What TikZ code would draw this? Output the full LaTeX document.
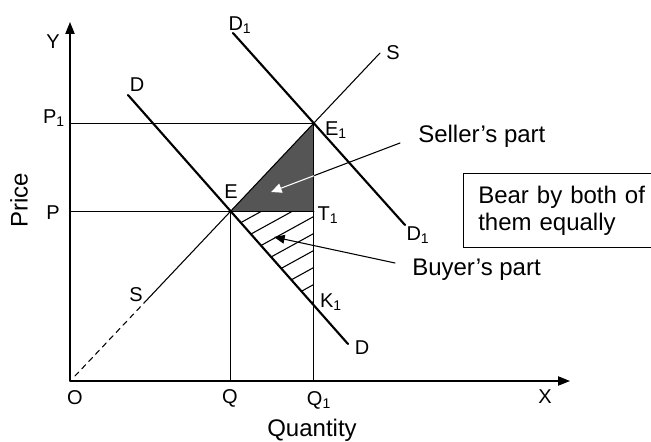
\documentclass[tikz,border=0pt]{standalone}
\usepackage{fontspec}
\setmainfont{Liberation Sans}
\usepackage{tikz}
\usetikzlibrary{arrows.meta,calc,positioning}
\definecolor{ShadeGray}{RGB}{85,85,85}

\begin{document}
\begin{tikzpicture}[x=0.75pt, y=-0.75pt, line cap=round,
		lbl/.style={font=\fontsize{15}{18}\selectfont, inner sep=0pt},
		txt/.style={font=\fontsize{18}{20.25}\selectfont, inner sep=0pt},
		curve/.style={line width=1.6pt},
		guide/.style={line width=0.8pt},
		axis/.style={line width=0.9pt, -{Triangle[length=9pt,width=7pt]}}]
	\useasboundingbox (0,0) rectangle (651,442);
	% end points of the curves
	\coordinate (O) at (70,381);
	\coordinate (Xend) at (570,381);
	\coordinate (Yend) at (70,22);
	\coordinate (Dtop) at (128,95);
	\coordinate (Dbot) at (348,344);
	\coordinate (D1top) at (233,33);
	\coordinate (D1bot) at (405,225);
	\coordinate (Slow) at (75,376);
	\coordinate (Smid) at (144,303);
	\coordinate (Stop) at (380,53);
	% equilibrium points
	\coordinate (E) at (intersection of Dtop--Dbot and Slow--Stop);
	\coordinate (E1) at (intersection of D1top--D1bot and Slow--Stop);
	\coordinate (T1) at (E1 |- E);
	\coordinate (K1) at (intersection of Dtop--Dbot and E1--T1);
	\coordinate (Q) at (E |- O);
	\coordinate (Q1) at (E1 |- O);
	\coordinate (P) at (O |- E);
	\coordinate (P1) at (O |- E1);

	% shaded parts
	\fill[ShadeGray] (E) -- (E1) -- (T1) -- cycle;
	\begin{scope}
		\clip (E) -- (T1) -- (K1) -- cycle;
		\foreach \k in {1,...,8}
			\draw[guide] ($(E)+(0,\k*17)$) -- ++(110,-60.5);
	\end{scope}

	% axes and guide lines
	\draw[axis] (O) -- (Xend);
	\draw[axis] (O) -- (Yend);
	\draw[guide] (P1) -- (E1);
	\draw[guide] (P) -- (T1);
	\draw[guide] (Q) -- (E);
	\draw[line width=1pt] (Q1) -- (E1);

	% supply and demand
	\draw[guide, dash pattern=on 4pt off 3.5pt] (Slow) -- (Smid);
	\draw[guide] (Smid) -- (Stop);
	\draw[curve] (Dtop) -- (Dbot);
	\draw[curve] (D1top) -- (D1bot);

	% labels
	\node[lbl] (ylab) at (53,42) {Y};
	\node[lbl] (xlab) at (545,397) {X};
	\node[lbl] (olab) at (75,398) {O};
	\node[lbl] (qlab) at (230,398) {Q};
	\node[lbl] (q1lab) at (319,400) {Q\textsubscript{1}};
	\node[lbl] (plab) at (53,213) {P};
	\node[lbl] (p1lab) at (54,118) {P\textsubscript{1}};
	\node[lbl] (dtoplab) at (137,85) {D};
	\node[lbl] (dbotlab) at (362,348) {D};
	\node[lbl] (d1toplab) at (240,25) {D\textsubscript{1}};
	\node[lbl] (d1botlab) at (418,235) {D\textsubscript{1}};
	\node[lbl] (stoplab) at (393,53) {S};
	\node[lbl] (slowlab) at (136,295) {S};
	\node[lbl] (elab) at (231,192) {E};
	\node[lbl] (e1lab) at (336,130) {E\textsubscript{1}};
	\node[lbl] (t1lab) at (328,215) {T\textsubscript{1}};
	\node[lbl] (k1lab) at (331,302) {K\textsubscript{1}};
	\node[txt, anchor=base] (quantity) at (312,437) {Quantity};
	\node[txt, rotate=90] (price) at (19,200) {Price};

	% parts and the box
	\node[txt, anchor=base west] (seller) at (418,143) {Seller's part};
	\node[txt, anchor=base west] (buyer) at (412,276) {Buyer's part};
	\node[txt, draw, line width=0.9pt, anchor=north west, align=left,
		text width=150pt, inner xsep=11pt, minimum height=55.5pt] (box) at (463,173)
		{Bear by both of\\them equally};

	\coordinate (sfoot) at (400,143);
	\coordinate (stip) at (271,192);
	\coordinate (scross) at (intersection of sfoot--stip and E1--T1);
	\draw[guide] (sfoot) -- (scross);
	\draw[guide, white, -{Triangle[length=8pt,width=7pt]}] (scross) -- (stip);
	\coordinate (bfoot) at (395,263);
	\coordinate (btip) at (274,237);
	\draw[guide, -{Triangle[length=8pt,width=6.5pt]}] (bfoot) -- (btip);
\end{tikzpicture}
\end{document}
